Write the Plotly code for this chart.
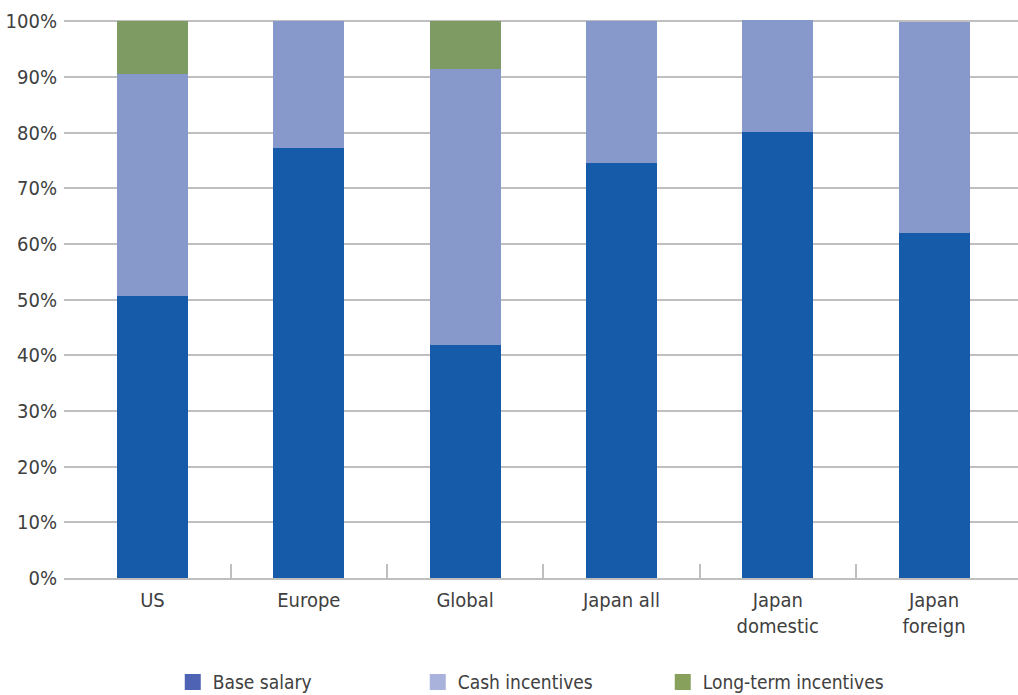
import plotly.graph_objects as go

categories = ["US", "Europe", "Global", "Japan all", "Japan<br>domestic", "Japan<br>foreign"]
base_salary = [50.6, 77.3, 41.9, 74.5, 80.2, 62.0]
cash_incentives = [40.0, 22.7, 49.6, 25.5, 20.0, 37.8]
long_term_incentives = [9.4, 0.0, 8.5, 0.0, 0.0, 0.0]
y_ticks = [0, 10, 20, 30, 40, 50, 60, 70, 80, 90, 100]
y_tick_labels = [f"{v}%" for v in y_ticks]

bar_colors = ["#155BA9", "#8799CB", "#7E9B64"]
legend_colors = ["#4F63B4", "#A8B2DB", "#87A05C"]
names = ["Base salary", "Cash incentives", "Long-term incentives"]

FONT = "Liberation Sans Narrow, DejaVu Sans Condensed, Roboto, sans-serif"
x_idx = list(range(len(categories)))
boundaries = [i + 0.5 for i in x_idx[:-1]]

fig = go.Figure()
for vals, col in zip([base_salary, cash_incentives, long_term_incentives], bar_colors):
    fig.add_trace(go.Bar(x=x_idx, y=vals, marker=dict(color=col, line=dict(width=0)),
                         showlegend=False, hoverinfo="skip"))
for nm, col in zip(names, legend_colors):
    fig.add_trace(go.Scatter(x=[None], y=[None], mode="markers", name=nm,
                             marker=dict(symbol="square", size=16, color=col)))

fig.update_layout(
    barmode="stack",
    bargap=0.545,
    width=1018, height=695,
    margin=dict(l=64, r=0, t=18, b=117),
    plot_bgcolor="white", paper_bgcolor="white",
    font=dict(family=FONT, size=20, color="#404040"),
    showlegend=True,
    legend=dict(orientation="h", traceorder="normal", x=0.114, xanchor="left",
                yref="container", y=0.046, yanchor="top",
                entrywidth=200, entrywidthmode="pixels",
                font=dict(family=FONT, size=19, color="#404040")),
    xaxis=dict(range=[-0.566, 5.537], tickmode="array", tickvals=x_idx, ticktext=categories,
               ticks="", showgrid=False, zeroline=False, showline=True,
               linecolor="#BFBFBF", linewidth=2, ticklabelstandoff=3,
               minor=dict(tickmode="array", tickvals=boundaries, ticks="inside",
                          ticklen=14, tickwidth=1.5, tickcolor="#BFBFBF", showgrid=False)),
    yaxis=dict(range=[0, 100.6], tickmode="array", tickvals=y_ticks, ticktext=y_tick_labels,
               showgrid=True, gridcolor="#BFBFBF", gridwidth=1.5, zeroline=False,
               ticks="", showline=False, ticklabelstandoff=6),
)

fig.write_html("out.html")
